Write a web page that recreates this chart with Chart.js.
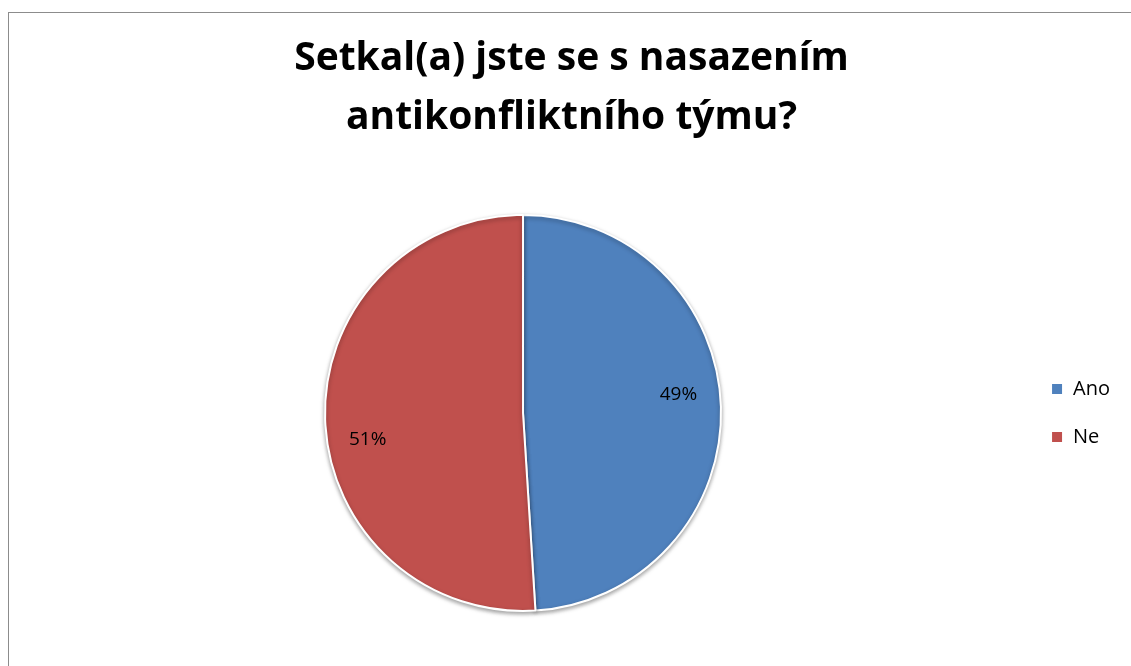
<!DOCTYPE html>
<html>
<head>
<meta charset="utf-8">
<script src="https://cdn.jsdelivr.net/npm/chart.js@4/dist/chart.umd.min.js"></script>
<style>
    html, body { margin: 0; padding: 0; background: #fff; }
    #frame {
        position: absolute; left: 8px; top: 12px; width: 1123px; height: 654px;
        border-left: 1px solid #8c8c8c; border-top: 1px solid #8c8c8c;
    }
    #wrap { position: absolute; left: 0; top: 0; width: 1131px; height: 666px; }
</style>
</head>
<body>
<div id="frame"></div>
<div id="wrap"><canvas id="pieChart" width="1131" height="666"></canvas></div>
<script>
var chartTitle = ["Setkal(a) jste se s nasazením", "antikonfliktního týmu?"]
var categories = ["Ano", "Ne"]
var values = [49, 51]
var sliceColors = ["#4F81BD", "#C0504D"]
var labelNudge = [-14, 22]   // excel "best fit" puts the labels a bit off the mid angle

var fontName = "'Open Sans', Lato, sans-serif"

// draws the % labels inside the slices
var pctLabels = {
    id: "pctLabels",
    afterDatasetsDraw: function(chart) {
        var ctx = chart.ctx
        var meta = chart.getDatasetMeta(0)
        var total = values.reduce(function(a, b) { return a + b }, 0)
        ctx.save()
        ctx.font = "19px " + fontName
        ctx.fillStyle = "#000"
        ctx.textAlign = "center"
        ctx.textBaseline = "middle"
        meta.data.forEach(function(arc, i) {
            var mid = (arc.startAngle + arc.endAngle) / 2
            var r = arc.outerRadius * 0.785
            var x = arc.x + Math.cos(mid) * r
            var y = arc.y + Math.sin(mid) * r + labelNudge[i]
            ctx.fillText(Math.round(values[i] / total * 100) + "%", x, y)
        })
        ctx.restore()
    }
}

// soft drop shadow under the pie
var pieShadow = {
    id: "pieShadow",
    beforeDatasetsDraw: function(chart) {
        var ctx = chart.ctx
        ctx.save()
        ctx.shadowColor = "rgba(0,0,0,0.35)"
        ctx.shadowBlur = 4
        ctx.shadowOffsetY = 2
    },
    afterDatasetsDraw: function(chart) {
        chart.ctx.restore()
    }
}

var ctx = document.getElementById("pieChart").getContext("2d")
var pieChart = new Chart(ctx, {
    type: "pie",
    data: {
        labels: categories,
        datasets: [{
            data: values,
            backgroundColor: sliceColors,
            borderColor: "#ffffff",
            borderWidth: 2,
        }]
    },
    options: {
        responsive: false,
        animation: false,
        layout: {
            padding: { left: 23, right: 11, top: 0, bottom: 54 }
        },
        plugins: {
            title: {
                display: true,
                text: chartTitle,
                color: "#000",
                font: { family: fontName, size: 39, weight: "bold", lineHeight: 1.5 },
                padding: { top: 30, bottom: 67 }
            },
            legend: {
                position: "right",
                fullSize: false,
                labels: {
                    color: "#000",
                    font: { family: fontName, size: 20 },
                    boxWidth: 12,
                    boxHeight: 12,
                    padding: 28
                }
            },
            tooltip: { enabled: false }
        }
    },
    plugins: [pieShadow, pctLabels]
})
</script>
</body>
</html>
